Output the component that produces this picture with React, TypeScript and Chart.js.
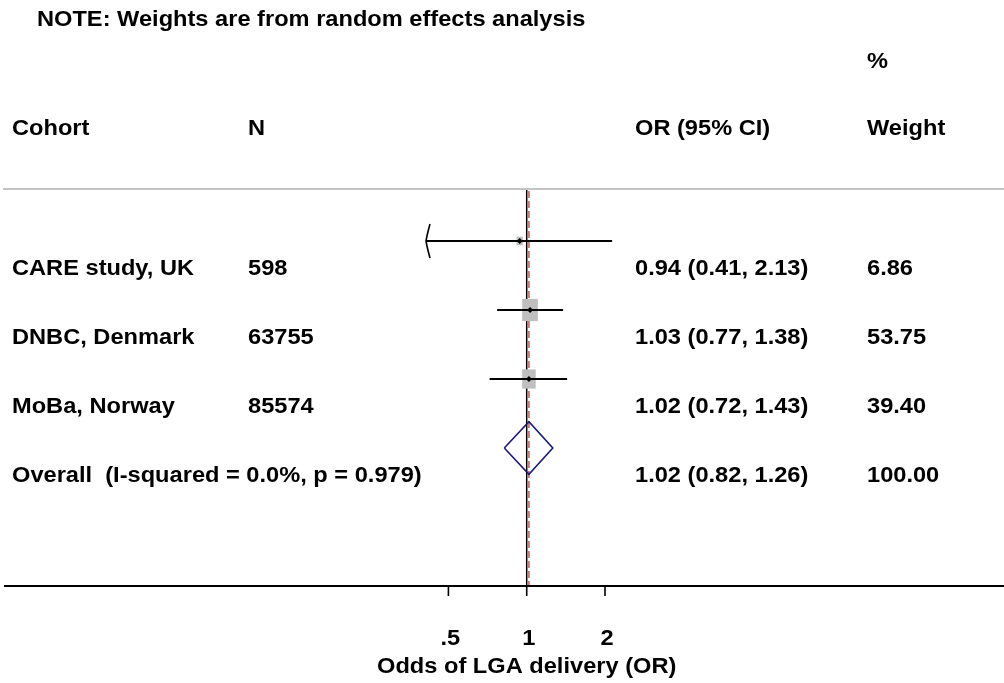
import React, { useEffect, useRef } from "react";
import { Chart, registerables } from "chart.js";

Chart.register(...registerables);

// ---------------- data ----------------
const cohorts = ["CARE study, UK", "DNBC, Denmark", "MoBa, Norway"];
const sampleSizes = ["598", "63755", "85574"];
const oddsRatios = [0.94, 1.03, 1.02];
const ciLower = [0.41, 0.77, 0.72];
const ciUpper = [2.13, 1.38, 1.43];
const weights = [6.86, 53.75, 39.4];

const overallLabel = "Overall  (I-squared = 0.0%, p = 0.979)";
const overallOR = 1.02;
const overallLower = 0.82;
const overallUpper = 1.26;
const overallWeight = 100.0;

const xTickValues = [0.5, 1, 2];
const xTickLabels = [".5", "1", "2"];
const xTitle = "Odds of LGA delivery (OR)";
const noteText = "NOTE: Weights are from random effects analysis";
const headerCohort = "Cohort";
const headerN = "N";
const headerOR = "OR (95% CI)";
const headerWeightTop = "%";
const headerWeight = "Weight";

// ---------------- style ----------------
const FONT = "bold 22.5px 'Liberation Sans', Arial, sans-serif";
const SX = 1.05;
const DIAMOND_HALF = 0.38; // in row units
const NAVY = "#1a1a7e";
const RED = "#c65a5a";
const BOX_GRAY = "#bfbfbf";

function fmtCI(o: number, l: number, u: number) {
  return `${o.toFixed(2)} (${l.toFixed(2)}, ${u.toFixed(2)})`;
}

function drawText(ctx: CanvasRenderingContext2D, s: string, x: number, y: number, align: CanvasTextAlign = "left") {
  ctx.save();
  ctx.translate(x, y);
  ctx.scale(SX, 1);
  ctx.font = FONT;
  ctx.fillStyle = "#000";
  ctx.textAlign = align;
  ctx.textBaseline = "alphabetic";
  ctx.fillText(s, 0, 0);
  ctx.restore();
}

const forestPlugin = {
  id: "forest",
  beforeDatasetsDraw(chart: any) {
    const ctx: CanvasRenderingContext2D = chart.ctx;
    const xs = chart.scales.x;
    const ys = chart.scales.y;
    const area = chart.chartArea;
    ctx.save();
    // top separator line
    ctx.strokeStyle = "#c4c4c4";
    ctx.lineWidth = 2;
    ctx.beginPath();
    ctx.moveTo(3, 189);
    ctx.lineTo(chart.width, 189);
    ctx.stroke();
    // null line
    const x1 = xs.getPixelForValue(1);
    ctx.strokeStyle = "#000";
    ctx.lineWidth = 1.5;
    ctx.beginPath();
    ctx.moveTo(x1, 190);
    ctx.lineTo(x1, area.bottom);
    ctx.stroke();
    // overall effect line
    const xo = xs.getPixelForValue(overallOR);
    ctx.strokeStyle = RED;
    ctx.setLineDash([7, 3]);
    ctx.beginPath();
    ctx.moveTo(xo, 191);
    ctx.lineTo(xo, area.bottom);
    ctx.stroke();
    ctx.setLineDash([]);
    // weight boxes
    ctx.fillStyle = BOX_GRAY;
    weights.forEach((w, i) => {
      const cx = xs.getPixelForValue(oddsRatios[i]);
      const cy = ys.getPixelForValue(i + 1);
      const bw = 2.0 * Math.sqrt(w) + 1;
      const bh = 2.9 * Math.sqrt(w) + 1;
      ctx.fillRect(cx - bw / 2, cy - bh / 2, bw, bh);
    });
    ctx.restore();
  },
  afterDatasetsDraw(chart: any) {
    const ctx: CanvasRenderingContext2D = chart.ctx;
    const xs = chart.scales.x;
    const ys = chart.scales.y;
    const area = chart.chartArea;
    ctx.save();
    // arrows for CIs that run past the lowest tick
    ctx.strokeStyle = "#000";
    ctx.lineWidth = 1.6;
    ciLower.forEach((l, i) => {
      if (l < xTickValues[0]) {
        const ax = xs.getPixelForValue(l);
        const ay = ys.getPixelForValue(i + 1);
        ctx.beginPath();
        ctx.moveTo(ax + 4, ay - 17);
        ctx.quadraticCurveTo(ax + 1, ay - 6, ax, ay);
        ctx.quadraticCurveTo(ax + 1, ay + 6, ax + 4, ay + 17);
        ctx.stroke();
      }
    });
    // x axis
    ctx.lineWidth = 2;
    ctx.beginPath();
    ctx.moveTo(area.left, area.bottom);
    ctx.lineTo(area.right, area.bottom);
    ctx.stroke();
    ctx.lineWidth = 1.6;
    xTickValues.forEach((v, i) => {
      const tx = xs.getPixelForValue(v);
      ctx.beginPath();
      ctx.moveTo(tx, area.bottom);
      ctx.lineTo(tx, area.bottom + 10);
      ctx.stroke();
      drawText(ctx, xTickLabels[i], tx + 2, 645, "center");
    });
    drawText(ctx, xTitle, xs.getPixelForValue(1), 673, "center");

    // header
    const colCohort = 12;
    const colN = 248;
    const colOR = 635;
    const colW = 867;
    drawText(ctx, noteText, 37, 26);
    drawText(ctx, headerWeightTop, colW, 68);
    drawText(ctx, headerCohort, colCohort, 135);
    drawText(ctx, headerN, colN, 135);
    drawText(ctx, headerOR, colOR, 135);
    drawText(ctx, headerWeight, colW, 135);

    cohorts.forEach((c, i) => {
      const by = ys.getPixelForValue(i + 1) + 34;
      drawText(ctx, c, colCohort, by);
      drawText(ctx, sampleSizes[i], colN, by);
      drawText(ctx, fmtCI(oddsRatios[i], ciLower[i], ciUpper[i]), colOR, by);
      drawText(ctx, weights[i].toFixed(2), colW, by);
    });
    const oy = ys.getPixelForValue(cohorts.length + 1) + 34;
    drawText(ctx, overallLabel, colCohort, oy);
    drawText(ctx, fmtCI(overallOR, overallLower, overallUpper), colOR, oy);
    drawText(ctx, overallWeight.toFixed(2), colW, oy);
    ctx.restore();
  },
};

export default function App() {
  const ref = useRef<HTMLCanvasElement | null>(null);
  useEffect(() => {
    if (!ref.current) return;
    const ciSets = cohorts.map((c, i) => ({
      type: "line" as const,
      label: c + " CI",
      data: [
        { x: ciLower[i], y: i + 1 },
        { x: ciUpper[i], y: i + 1 },
      ],
      borderColor: "#000",
      borderWidth: 1.8,
      pointRadius: 0,
      fill: false,
    }));
    const overallRow = cohorts.length + 1;
    const diamond = {
      type: "line" as const,
      label: "Overall",
      data: [
        { x: overallLower, y: overallRow },
        { x: overallOR, y: overallRow - DIAMOND_HALF },
        { x: overallUpper, y: overallRow },
        { x: overallOR, y: overallRow + DIAMOND_HALF },
        { x: overallLower, y: overallRow },
      ],
      borderColor: NAVY,
      borderWidth: 1.6,
      pointRadius: 0,
      fill: false,
    };
    const points = {
      type: "line" as const,
      label: "OR",
      data: oddsRatios.map((o, i) => ({ x: o, y: i + 1 })),
      showLine: false,
      pointStyle: "rectRot",
      pointRadius: 3,
      pointBackgroundColor: "#000",
      pointBorderColor: "#000",
      pointBorderWidth: 0,
    };
    const chart = new Chart(ref.current, {
      type: "line",
      data: { datasets: [...ciSets, diamond, points] as any },
      options: {
        animation: false,
        responsive: false,
        maintainAspectRatio: false,
        devicePixelRatio: 1,
        layout: { padding: { left: 4, right: 0, top: 172, bottom: 97 }, autoPadding: false },
        plugins: { legend: { display: false }, tooltip: { enabled: false }, title: { display: false } },
        scales: {
          x: {
            type: "logarithmic",
            display: false,
            min: Math.pow(2, -6.676),
            max: Math.pow(2, 6.096),
          },
          y: { type: "linear", display: false, min: 0, max: 6, reverse: true },
        },
      } as any,
      plugins: [forestPlugin],
    });
    return () => chart.destroy();
  }, []);
  return (
    <div style={{ position: "absolute", left: 0, top: 0, width: 1004, height: 683, background: "#fff" }}>
      <canvas ref={ref} width={1004} height={683} style={{ display: "block" }} />
    </div>
  );
}
